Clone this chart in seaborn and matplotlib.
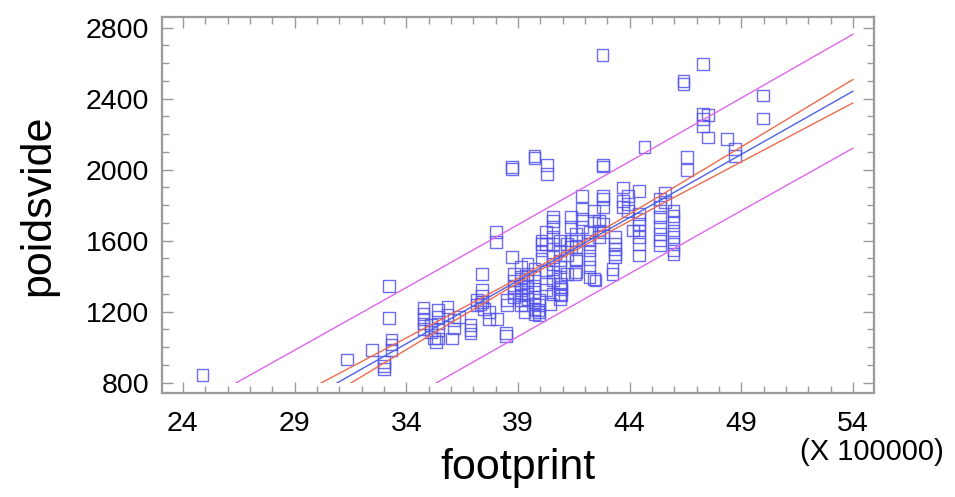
import numpy as np
import pandas as pd
import matplotlib
matplotlib.use("Agg")
import matplotlib.pyplot as plt
import seaborn as sns
from matplotlib.patches import Rectangle
from matplotlib.ticker import MultipleLocator

# ---- scatter data (footprint in units of 100000, poidsvide) ----
footprint = [
    24.88, 31.33, 32.45, 33.21, 33.21, 33.34, 33.34, 33.34, 33.01, 33.01, 33.01,
    34.77, 34.77, 34.77, 34.77, 34.77, 35.12, 35.12, 35.23,
    35.43, 35.43, 35.43, 35.43, 35.43, 35.33, 35.84, 35.84, 36.15, 36.15, 36.05, 36.35,
    36.87, 36.87, 36.87, 37.38, 37.38, 37.38, 37.38, 37.17, 37.17, 37.32, 37.48,
    37.69, 37.69, 38.00, 38.00, 38.06, 38.51, 38.51, 38.45, 38.45, 38.73, 38.73, 38.73,
    38.82, 38.82, 38.82, 38.82, 38.82,
    39.12, 39.12, 39.12, 39.12, 39.12, 39.12, 39.12,
    39.43, 39.43, 39.43, 39.43, 39.43, 39.43,
    39.74, 39.74, 39.74, 39.74, 39.74, 39.74, 39.74, 39.74, 39.74, 39.74,
    39.95, 39.95, 39.95, 39.95, 39.29, 39.29, 39.88,
    40.05, 40.05, 40.05, 40.05, 40.25, 40.25, 40.25, 40.25, 40.25, 40.31, 40.31, 40.46,
    40.56, 40.56, 40.56, 40.56, 40.56, 40.56, 40.56, 40.56, 40.56, 40.56,
    40.87, 40.87, 40.87, 40.87, 40.87, 40.87, 40.87, 40.87, 40.93, 40.93, 40.93,
    41.18, 41.18, 41.18, 41.38, 41.38, 41.38, 41.38,
    41.59, 41.59, 41.59, 41.59, 41.59, 41.59, 41.55,
    41.85, 41.85, 41.85, 41.85,
    42.20, 42.20, 42.20, 42.20, 42.20, 42.20, 42.20, 42.41, 42.41, 42.41, 42.47,
    42.61, 42.61, 42.61, 42.78, 42.82, 42.82, 42.82, 42.82, 42.82, 42.82, 42.82,
    43.23, 43.23, 43.33, 43.33, 43.33, 43.33, 43.33, 43.70, 43.70, 43.70,
    43.91, 43.91, 43.91, 44.15,
    44.42, 44.42, 44.42, 44.42, 44.42, 44.42, 44.42, 44.42, 44.66,
    45.34, 45.34, 45.34, 45.34, 45.34, 45.34, 45.34, 45.59, 45.59,
    45.96, 45.96, 45.96, 45.96, 45.96, 45.96, 45.96, 45.96,
    46.41, 46.41, 46.57, 46.57, 47.29, 47.29, 47.29, 47.29, 47.50, 47.50,
    48.36, 48.73, 48.73, 49.96, 49.96,
]
poidsvide = [
    843, 931, 983, 1344, 1165, 1043, 1015, 983, 918, 894, 875,
    1221, 1189, 1161, 1133, 1101, 1124, 1086, 1049,
    1208, 1170, 1133, 1096, 1049, 1030, 1227, 1180, 1152, 1105, 1049, 1170,
    1124, 1096, 1077, 1414, 1324, 1287, 1255, 1264, 1236, 1245, 1217,
    1198, 1161, 1647, 1591, 1161, 1236, 1264, 1081, 1062, 1507, 2016, 2005,
    1414, 1376, 1339, 1311, 1283,
    1451, 1395, 1358, 1320, 1292, 1264, 1236,
    1470, 1414, 1376, 1339, 1301, 1273,
    1442, 1395, 1348, 1311, 1283, 1245, 1217, 1189, 2078, 2068,
    1264, 1236, 1198, 1180, 1236, 1198, 1208,
    1601, 1582, 1545, 1498, 1647, 1582, 1432, 1358, 1320, 2027, 1975, 1245,
    1732, 1713, 1676, 1619, 1582, 1507, 1470, 1423, 1376, 1301,
    1601, 1545, 1489, 1451, 1395, 1339, 1301, 1273, 1358, 1329, 1292,
    1582, 1517, 1414, 1732, 1676, 1601, 1563,
    1638, 1601, 1563, 1498, 1489, 1423, 1414,
    1853, 1779, 1722, 1676,
    1647, 1601, 1582, 1545, 1498, 1451, 1395, 1769, 1713, 1386, 1376,
    1713, 1657, 1619, 2648, 1853, 1835, 1788, 1694, 1647, 2027, 2018,
    1442, 1414, 1619, 1582, 1554, 1526, 1507, 1900, 1825, 1788,
    1853, 1807, 1769, 1657,
    1881, 1750, 1722, 1694, 1657, 1619, 1582, 1517, 2128,
    1835, 1788, 1732, 1676, 1638, 1601, 1573, 1872, 1816,
    1769, 1741, 1704, 1657, 1619, 1582, 1545, 1526,
    2499, 2484, 2072, 1997, 2596, 2315, 2284, 2246, 2306, 2181,
    2171, 2115, 2078, 2418, 2289,
]

# ---- fitted line, confidence and prediction limits ----
line_x   = [26, 30, 33, 36, 39, 42, 45, 48, 51, 54]
fit_y    = [450, 734.5, 948, 1161.5, 1375, 1588.6, 1802, 2015.6, 2229, 2442.6]
ci_upper = [520.5, 786, 985.6, 1185.5, 1387.5, 1601.1, 1826, 2053.2, 2280.7, 2508.6]
ci_lower = [379, 683, 910.4, 1137.5, 1362.5, 1576.1, 1778, 1978, 2177.3, 2376.6]
pi_upper = [772, 1053.5, 1265, 1477.5, 1690, 1903.6, 2118, 2332.6, 2548, 2763.6]
pi_lower = [128, 415.5, 631, 845.5, 1060, 1273.6, 1486, 1698.6, 1910, 2121.6]

x_ticks = [24, 29, 34, 39, 44, 49, 54]
y_ticks = [800, 1200, 1600, 2000, 2400, 2800]

sns.set_style("ticks")
plt.rcParams['font.family'] = ["Liberation Sans", "DejaVu Sans"]
tick_fs = 20.5
label_fs = 31
note_fs = 21

fig = plt.figure(figsize=(9.55, 4.97), dpi=100)
ax = fig.add_axes([0.1693, 0.2093, 0.9155 - 0.1693, 0.9664 - 0.2093])

df = pd.DataFrame({"footprint": footprint, "poidsvide": poidsvide})
sns.scatterplot(data=df, x="footprint", y="poidsvide", ax=ax, marker="s",
                s=72, facecolors="none", edgecolor=(0.33, 0.33, 0.92),
                linewidth=1.0, alpha=0.85, zorder=3)

xmin, xmax = 23.05, 54.95
ymin, ymax = 742, 2862
clip = Rectangle((xmin, 800), xmax - xmin, ymax - 800, transform=ax.transData)

lines_spec = [
    (pi_upper, (0.88, 0.40, 0.92)),
    (pi_lower, (0.88, 0.40, 0.92)),
    (ci_upper, (0.93, 0.42, 0.30)),
    (ci_lower, (0.93, 0.42, 0.30)),
    (fit_y, (0.30, 0.38, 0.90)),
]
for yvals, col in lines_spec:
    n_before = len(ax.lines)
    sns.lineplot(x=line_x, y=yvals, ax=ax, color=col, linewidth=1.0, sort=False,
                 estimator=None, zorder=4)
    for ln in ax.lines[n_before:]:
        ln.set_clip_path(clip)

ax.set_xlim(xmin, xmax)
ax.set_ylim(ymin, ymax)
ax.set_xticks(x_ticks)
ax.set_yticks(y_ticks)
ax.xaxis.set_minor_locator(MultipleLocator(1))
ax.yaxis.set_minor_locator(MultipleLocator(100))

gray = "#9a9a9a"
for sp in ax.spines.values():
    sp.set_color(gray)
    sp.set_linewidth(1.6)
ax.tick_params(which="both", direction="in", top=True, right=True, color=gray,
               width=1.0)
ax.tick_params(which="major", length=8, labelsize=tick_fs, labelcolor="black")
ax.tick_params(which="minor", length=5)
ax.tick_params(axis="x", which="major", pad=13)
ax.tick_params(axis="y", which="major", pad=9)

ax.set_xlabel("footprint", fontsize=label_fs, color="black")
ax.set_ylabel("poidsvide", fontsize=label_fs, color="black")
ax.xaxis.set_label_coords(0.5, -0.145)
ax.yaxis.set_label_coords(-0.145, 0.5)

fig.text(0.913, 0.091, "(X 100000)", ha="center", va="center",
         fontsize=note_fs, color="black")

fig.savefig("out.png", dpi=100, facecolor="white")
